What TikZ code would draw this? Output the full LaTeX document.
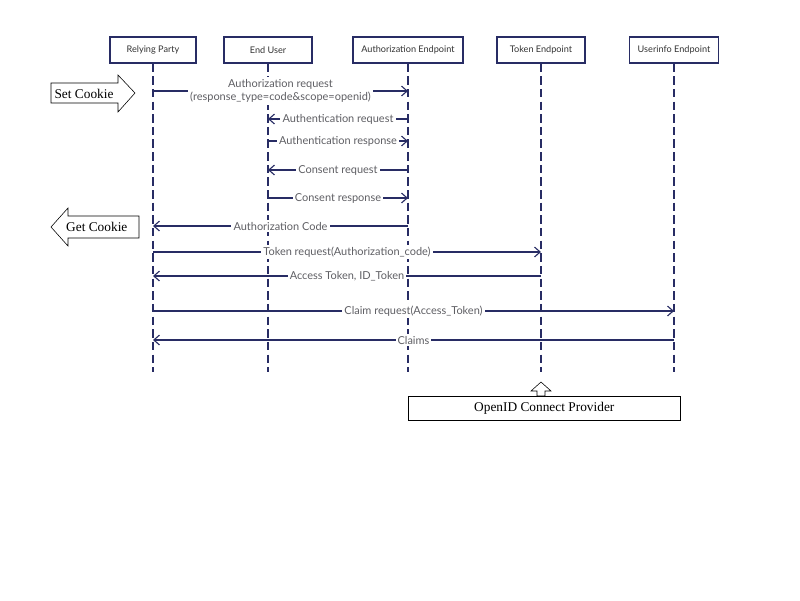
\documentclass[tikz,border=0pt]{standalone}
\usepackage{fontspec}
\setmainfont{Liberation Serif}
\newfontfamily\lato{Lato}
\usetikzlibrary{arrows.meta,positioning}
\definecolor{navy}{RGB}{40,44,100}
\definecolor{txtgray}{RGB}{95,95,100}

\begin{document}
\begin{tikzpicture}
[party/.style={draw=navy, thick, minimum height=0.65cm, font=\lato\fontsize{6.5}{7}\selectfont, text=black!80, inner sep=0pt},
life/.style={navy, thick, dash pattern=on 6pt off 3pt},
msg/.style={navy, thick, -{Straight Barb[length=4pt,width=7pt]}},
lbl/.style={fill=white, text=txtgray, font=\lato\fontsize{7.8}{9.5}\selectfont, inner sep=1.5pt, align=center},
plain/.style={font=\fontsize{9.5}{10}\selectfont, inner sep=0pt}]
\useasboundingbox (0,0) rectangle (20,-15);

\node (rp) [party, minimum width=2.15cm] at (3.825,-1.25) {Relying Party};
\node (eu) [party, minimum width=2.2cm] at (6.7,-1.25) {End User};
\node (ae) [party, minimum width=2.75cm] at (10.2,-1.25) {Authorization Endpoint};
\node (te) [party, minimum width=2.2cm] at (13.525,-1.25) {Token Endpoint};
\node (ue) [party, minimum width=2.225cm] at (16.85,-1.25) {Userinfo Endpoint};

\foreach \p in {rp,eu,ae,te,ue}
    \draw [life] (\p.south) -- (\p.south |- 0,-9.3);

\draw [msg] (rp.south |- 0,-2.275) -- node[lbl]{Authorization request\\(response\_type=code\&scope=openid)} (ae.south |- 0,-2.275);
\draw [msg] (ae.south |- 0,-2.975) -- node[lbl]{Authentication request} (eu.south |- 0,-2.975);
\draw [msg] (eu.south |- 0,-3.525) -- node[lbl]{Authentication response} (ae.south |- 0,-3.525);
\draw [msg] (ae.south |- 0,-4.25) -- node[lbl]{Consent request} (eu.south |- 0,-4.25);
\draw [msg] (eu.south |- 0,-4.95) -- node[lbl]{Consent response} (ae.south |- 0,-4.95);
\draw [msg] (ae.south |- 0,-5.65) -- node[lbl]{Authorization Code} (rp.south |- 0,-5.65);
\draw [msg] (rp.south |- 0,-6.3) -- node[lbl]{Token request(Authorization\_code)} (te.south |- 0,-6.3);
\draw [msg] (te.south |- 0,-6.9) -- node[lbl]{Access Token, ID\_Token} (rp.south |- 0,-6.9);
\draw [msg] (rp.south |- 0,-7.775) -- node[lbl]{Claim request(Access\_Token)} (ue.south |- 0,-7.775);
\draw [msg] (ue.south |- 0,-8.5) -- node[lbl]{Claims} (rp.south |- 0,-8.5);

% cookie arrows
\draw (1.275,-2.075) -- (2.95,-2.075) -- (2.95,-1.875) -- (3.375,-2.325) -- (2.95,-2.8) -- (2.95,-2.575) -- (1.275,-2.575) -- cycle;
\node (setck) [plain] at (2.1,-2.35) {Set Cookie};
\draw (1.275,-5.675) -- (1.7,-5.2) -- (1.7,-5.4) -- (3.475,-5.4) -- (3.475,-5.95) -- (1.7,-5.95) -- (1.7,-6.15) -- cycle;
\node (getck) [plain] at (2.42,-5.68) {Get Cookie};

\node (ocp) [draw=black, minimum width=6.8cm, minimum height=0.6cm, plain, anchor=north west] at (10.2,-9.9) {OpenID Connect Provider};
\draw (te.south |- 0,-9.55) -- (13.775,-9.775) -- (13.625,-9.775) -- (13.625,-9.9)
    -- (13.425,-9.9) -- (13.425,-9.775) -- (13.275,-9.775) -- cycle;
\end{tikzpicture}
\end{document}
